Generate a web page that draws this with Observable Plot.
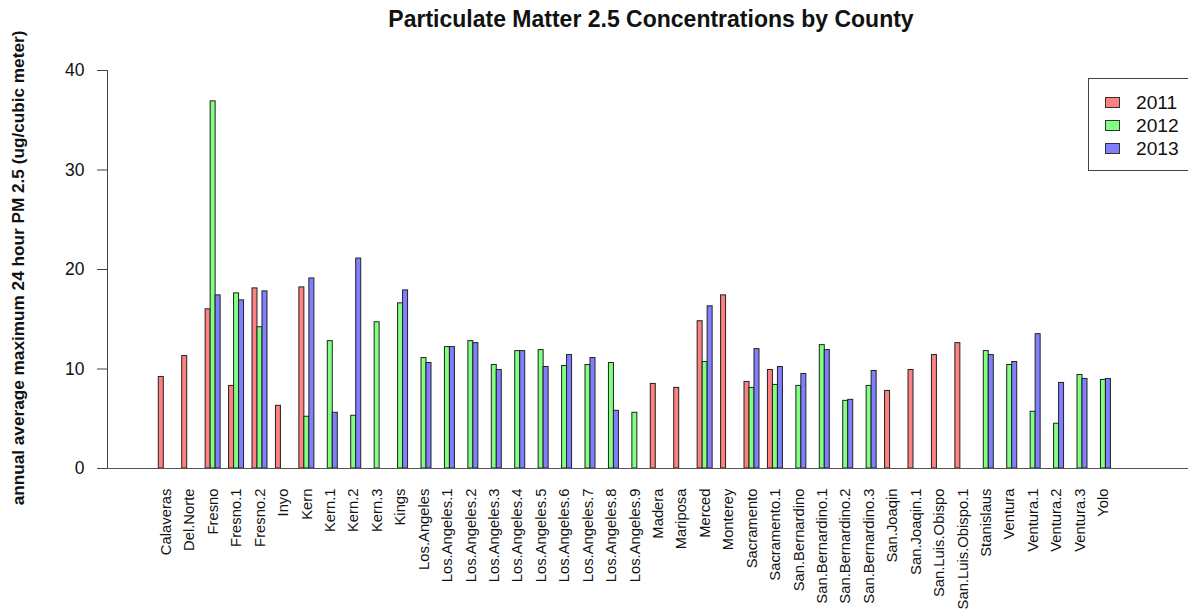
<!DOCTYPE html>
<html><head><meta charset="utf-8">
<script src="https://cdn.jsdelivr.net/npm/d3@7"></script>
<script src="https://cdn.jsdelivr.net/npm/@observablehq/plot@0.6"></script>
<style>
html,body{margin:0;padding:0;background:#fff;overflow:hidden;}
#wrap{position:relative;width:1188px;height:613px;overflow:hidden;font-family:"Liberation Sans",Arial,sans-serif;color:#111;}
#title{position:absolute;left:0;top:6px;width:1302px;text-align:center;font-weight:bold;font-size:23px;}
#ylab{position:absolute;left:-232px;top:257px;width:500px;height:22px;line-height:22px;text-align:center;font-weight:bold;font-size:17.2px;transform:rotate(-90deg);transform-origin:50% 50%;white-space:nowrap;}
#legend{position:absolute;left:1088px;top:78px;width:140px;height:93px;border:1.5px solid #444;box-sizing:border-box;padding-top:12px;}
.row{display:flex;align-items:center;height:23px;font-size:19.2px;}
.sw{width:15px;height:11px;border:1px solid #333;margin-left:16px;margin-right:16px;box-sizing:border-box;}
</style>
</head><body>
<div id="wrap">
  <div id="title">Particulate Matter 2.5 Concentrations by County</div>
  <div id="ylab">annual average maximum 24 hour PM 2.5 (ug/cubic meter)</div>
  <div id="chart"></div>
  <div id="legend"></div>
</div>
<script>
const counties = ["Calaveras","Del.Norte","Fresno","Fresno.1","Fresno.2","Inyo","Kern","Kern.1","Kern.2","Kern.3","Kings",
  "Los.Angeles","Los.Angeles.1","Los.Angeles.2","Los.Angeles.3","Los.Angeles.4","Los.Angeles.5","Los.Angeles.6","Los.Angeles.7","Los.Angeles.8","Los.Angeles.9",
  "Madera","Mariposa","Merced","Monterey","Sacramento","Sacramento.1","San.Bernardino","San.Bernardino.1","San.Bernardino.2","San.Bernardino.3",
  "San.Joaqin","San.Joaqin.1","San.Luis.Obispo","San.Luis.Obispo.1","Stanislaus","Ventura","Ventura.1","Ventura.2","Ventura.3","Yolo"];
const years = ["2011","2012","2013"];
const yearColors = ["#FF8080","#80FF80","#8080FF"];
const yTicks = [0,10,20,30,40];
// values per county (null = no bar)
const v2011 = [9.2,11.3,16.0,8.3,18.1,6.3,18.2,null,null,null,null,
  null,null,null,null,null,null,null,null,null,null,
  8.5,8.1,14.8,17.4,8.7,9.9,null,null,null,null,
  7.8,9.9,11.4,12.6,null,null,null,null,null,null];
const v2012 = [null,null,36.9,17.6,14.2,null,5.2,12.8,5.3,14.7,16.6,
  11.1,12.2,12.8,10.4,11.8,11.9,10.3,10.4,10.6,5.6,
  null,null,10.7,null,8.1,8.4,8.3,12.4,6.8,8.3,
  null,null,null,null,11.8,10.4,5.7,4.5,9.4,8.9];
const v2013 = [null,null,17.4,16.9,17.8,null,19.1,5.6,21.1,null,17.9,
  10.6,12.2,12.6,9.9,11.8,10.2,11.4,11.1,5.8,null,
  null,null,16.3,null,12.0,10.2,9.5,11.9,6.9,9.8,
  null,null,null,null,11.4,10.7,13.5,8.6,9.0,9.0];

const series = [v2011, v2012, v2013];
const rows = [];
counties.forEach((c, i) => series.forEach((s, k) => {
  if (s[i] != null) rows.push({county: c, year: years[k], value: s[i]});
}));

const W = 1188, H = 613, mL = 107, mR = 0, mT = 70, mB = 145;
const xOpts = {type: "band", domain: counties, range: [mL, W - mR], paddingInner: 0.36, paddingOuter: 2.75, align: 0.398, round: false};
const bw = Plot.scale({x: xOpts}).bandwidth;

const barMarks = years.map((yr, k) => Plot.barY(rows.filter(d => d.year === yr), {
  x: "county", y: "value", fill: "year", stroke: "#222", strokeWidth: 1,
  insetLeft: k * bw / 3, insetRight: (2 - k) * bw / 3
}));

const plot = Plot.plot({
  width: W, height: H, marginLeft: mL, marginRight: mR, marginTop: mT, marginBottom: mB,
  style: {fontFamily: "'Liberation Sans', Arial, sans-serif", background: "white", color: "#111"},
  x: xOpts,
  y: {domain: [0, 40], range: [H - mB, mT]},
  color: {domain: years, range: yearColors},
  marks: [
    ...barMarks,
    Plot.ruleY([0], {stroke: "#555", strokeWidth: 1}),
    Plot.axisY({ticks: yTicks, tickSize: 10, tickPadding: 13, fontSize: 17.5, label: null, stroke: "#444"}),
    Plot.axisX({tickSize: 0, tickRotate: -90, tickPadding: 20, fontSize: 14.8, label: null})
  ]
});
const yS = plot.scale("y");
d3.select(plot).append("line")
  .attr("x1", mL + 0.5).attr("x2", mL + 0.5)
  .attr("y1", yS.apply(0)).attr("y2", yS.apply(40))
  .attr("stroke", "#444");
document.getElementById("chart").appendChild(plot);

const leg = d3.select("#legend");
years.forEach((yr, k) => {
  const r = leg.append("div").attr("class", "row");
  r.append("div").attr("class", "sw").style("background", plot.scale("color").apply(yr));
  r.append("span").text(yr);
});
</script>
</body></html>
